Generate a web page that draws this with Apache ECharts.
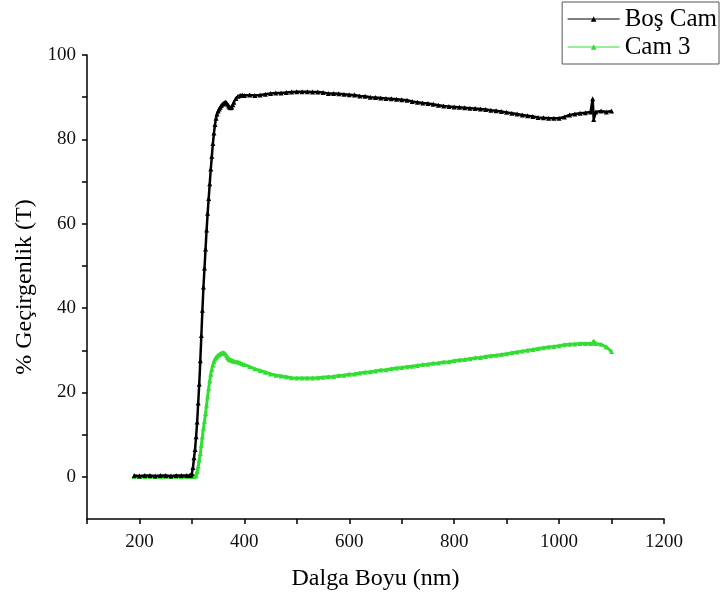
<!DOCTYPE html>
<html>
<head>
<meta charset="utf-8">
<script src="https://cdn.jsdelivr.net/npm/echarts@6/dist/echarts.min.js"></script>
<style>html,body{margin:0;padding:0;background:#fff}#c{width:720px;height:605px}</style>
</head>
<body>
<div id="c"></div>
<script>
var wavelength = [190,200,210,220,230,240,250,260,270,280,290,296,
298,300,302,304,306,308,310,312,314,316,318,320,322,324,326,328,330,332,334,336,338,340,342,344,346,348,350,352,354,356,358,360,362,364,366,368,370,372,374,376,378,380,
384,388,392,396,400,
410,420,430,440,450,460,470,480,490,500,510,520,530,540,550,560,570,580,590,600,610,620,630,640,650,660,670,680,690,700,710,720,730,740,750,760,770,780,790,800,810,820,830,840,850,860,870,880,890,900,910,920,930,940,950,960,970,980,990,1000,1010,1020,1030,1040,1050,1060,
1064,1066,1070,1080,1090,1100];

var bosCam = [0.3,0.2,0.3,0.3,0.2,0.3,0.3,0.2,0.3,0.3,0.3,0.3,
0.4,0.8,2.2,4.5,6.5,9.5,13,17.5,22,27.5,33.5,39.5,45,49.5,54,58.5,62.5,66,69.5,73,76,79,81.5,83.5,85,86,86.7,87.2,87.6,88,88.3,88.5,88.7,88.8,88.7,88.3,87.9,87.6,87.5,87.7,88.2,88.8,
89.7,90.2,90.4,90.5,90.4,
90.5,90.4,90.5,90.7,90.9,91.0,91.0,91.1,91.2,91.3,91.3,91.3,91.2,91.2,91.1,90.9,90.9,90.8,90.7,90.6,90.5,90.3,90.2,90.0,89.9,89.8,89.7,89.6,89.5,89.4,89.3,89.0,88.8,88.6,88.5,88.3,88.1,87.9,87.8,87.7,87.6,87.5,87.4,87.3,87.2,87.1,86.9,86.8,86.6,86.4,86.2,86.0,85.8,85.6,85.4,85.2,85.1,85.0,85.0,85.0,85.3,85.8,86.0,86.2,86.3,86.5,
89.6,84.7,86.5,86.7,86.5,86.7];

var cam3 = [0.1,0.1,0.0,0.1,0.1,0.0,0.1,0.1,0.1,0.0,0.1,0.1,
0.1,0.1,0.1,0.1,0.2,0.4,1.2,2.5,4.0,5.5,7.5,9.5,11.5,13.2,15,17,19,21,22.8,24.3,25.5,26.5,27.3,27.9,28.3,28.6,28.8,29.0,29.2,29.3,29.4,29.4,29.3,29.1,28.7,28.3,28.0,27.8,27.7,27.6,27.5,27.4,
27.3,27.2,27.0,26.8,26.6,
26.1,25.6,25.2,24.8,24.4,24.1,23.9,23.7,23.5,23.4,23.4,23.4,23.4,23.5,23.6,23.7,23.8,24.0,24.1,24.3,24.4,24.6,24.8,24.9,25.1,25.3,25.4,25.6,25.8,25.9,26.1,26.2,26.4,26.6,26.7,26.9,27.0,27.2,27.3,27.5,27.7,27.8,28.0,28.2,28.3,28.5,28.7,28.8,29.0,29.2,29.4,29.6,29.8,30.0,30.2,30.4,30.6,30.8,30.9,31.1,31.3,31.4,31.5,31.6,31.6,31.6,
31.7,32.2,31.6,31.4,30.8,29.7];

var seriesNames = ['Boş Cam', 'Cam 3'];
var xLabelValues = [200,400,600,800,1000,1200];
var yLabelValues = [0,20,40,60,80,100];
var yTickValues = [0,10,20,30,40,50,60,70,80,90,100];

function pairs(xs, ys){ return xs.map(function(x,i){ return [x, ys[i]]; }); }

var FONT = '"Liberation Serif", "Times New Roman", serif';
var chart = echarts.init(document.getElementById('c'), null, {renderer:'canvas'});
chart.setOption({
  animation: false,
  backgroundColor: '#fff',
  grid: {left: 87, right: 56, top: 55, bottom: 86, containLabel: false},
  legend: {
    orient: 'vertical', right: 1, top: 2,
    data: seriesNames,
    borderColor: '#555', borderWidth: 1, borderRadius: 0,
    padding: [4, 2, 4, 5],
    itemWidth: 52, itemHeight: 7, itemGap: 2,
    lineStyle: {width: 1},
    textStyle: {fontFamily: FONT, fontSize: 25, lineHeight: 26, color: '#000'}
  },
  xAxis: {
    type: 'value', min: 100, max: 1200, interval: 100,
    name: 'Dalga Boyu (nm)', nameLocation: 'middle', nameGap: 48,
    nameTextStyle: {fontFamily: FONT, fontSize: 24, color: '#000'},
    axisLine: {onZero: false, lineStyle: {color: '#000', width: 1.5}},
    axisTick: {show: true, inside: false, length: 5, lineStyle: {color: '#000', width: 1.5}},
    axisLabel: {
      fontFamily: FONT, fontSize: 19, color: '#111', margin: 14,
      formatter: function(v){ return xLabelValues.indexOf(v) >= 0 ? String(v) : ''; }
    },
    splitLine: {show: false}
  },
  yAxis: {
    type: 'value', min: -10, max: 100,
    name: '% Geçirgenlik (T)', nameLocation: 'middle', nameGap: 47, nameRotate: 90,
    nameTextStyle: {fontFamily: FONT, fontSize: 24, color: '#000'},
    axisLine: {onZero: false, lineStyle: {color: '#000', width: 1.5}},
    axisTick: {show: true, inside: false, length: 5, customValues: yTickValues, lineStyle: {color: '#000', width: 1.5}},
    axisLabel: {fontFamily: FONT, fontSize: 19, color: '#111', margin: 11, customValues: yLabelValues},
    splitLine: {show: false}
  },
  series: [
    {
      name: seriesNames[0], type: 'line', data: pairs(wavelength, bosCam),
      symbol: 'triangle', symbolSize: 5, showSymbol: true,
      itemStyle: {color: '#000'},
      lineStyle: {color: '#000', width: 2.5}, z: 3
    },
    {
      name: seriesNames[1], type: 'line', data: pairs(wavelength, cam3),
      symbol: 'triangle', symbolSize: 5, showSymbol: true,
      itemStyle: {color: '#33dd33'},
      lineStyle: {color: '#33dd33', width: 3}, z: 2
    }
  ]
});
</script>
</body>
</html>
